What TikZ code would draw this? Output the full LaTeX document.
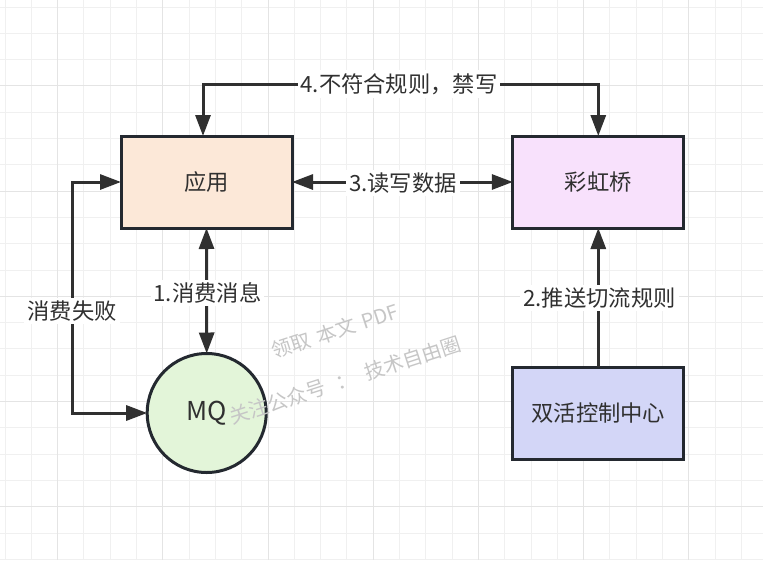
\documentclass[tikz,border=0pt]{standalone}
\usepackage{fontspec}
\setmainfont{Noto Sans CJK SC}
\usetikzlibrary{arrows.meta}
\definecolor{ink}{HTML}{303030}
\definecolor{edge}{HTML}{242930}
\definecolor{gridminor}{HTML}{F0F0F0}
\definecolor{gridmajor}{HTML}{E4E4E4}
\definecolor{peach}{HTML}{FCE8D8}
\definecolor{pinkish}{HTML}{F8E1FC}
\definecolor{mint}{HTML}{E3F5D9}
\definecolor{lilac}{HTML}{D3D6F7}
\definecolor{wmark}{HTML}{C6C6C6}
\tikzset{
  boxnode/.style={draw=edge, line width=3pt, minimum width=171pt, minimum height=92pt, inner sep=0pt, outer sep=0pt, font=\fontsize{22.3}{25}\selectfont, text=ink},
  circnode/.style={circle, draw=edge, line width=3pt, minimum size=119pt, inner sep=0pt, outer sep=0pt, fill=mint, font=\fontsize{26}{28}\selectfont, text=ink},
  conn/.style={draw=ink, line width=3pt, arrows={-Triangle[length=21pt,width=15pt]}},
  conn2/.style={draw=ink, line width=3pt, arrows={Triangle[length=21pt,width=15pt]-Triangle[length=21pt,width=15pt]}},
  lbl/.style={fill=white, inner sep=3pt, font=\fontsize{22.3}{25}\selectfont, text=ink},
  wm/.style={text=wmark, rotate=18, font=\fontsize{20}{22}\selectfont, inner sep=0pt},
}
\begin{document}
\begin{tikzpicture}[x=1pt,y=-1pt]
\useasboundingbox (0,0) rectangle (763,560);
\fill[white] (0,0) rectangle (763,560);
% grid
\foreach \k in {0,...,29} {
  \pgfmathsetmacro{\gx}{5+\k*26.3}
  \draw[gridminor, line width=1pt] (\gx,0) -- (\gx,560);
}
\foreach \k in {0,...,21} {
  \pgfmathsetmacro{\gy}{7+\k*26.3}
  \draw[gridminor, line width=1pt] (0,\gy) -- (763,\gy);
}
\foreach \k in {2,6,...,28} {
  \pgfmathsetmacro{\gx}{5+\k*26.3}
  \draw[gridmajor, line width=1pt] (\gx,0) -- (\gx,560);
}
\foreach \k in {3,7,...,19} {
  \pgfmathsetmacro{\gy}{7+\k*26.3}
  \draw[gridmajor, line width=1pt] (0,\gy) -- (763,\gy);
}
% nodes
\node[boxnode, fill=peach] (yy) at (206.5,182) {应用};
\node[boxnode, fill=pinkish] (chq) at (598.3,182) {彩虹桥};
\node[circnode] (mq) at (206.7,413) {MQ};
\node[boxnode, fill=lilac] (sh) at (598.3,413.2) {双活控制中心};
% helper coordinates
\coordinate (t4) at (399,84);
\coordinate (fl) at (72,311);
% connectors
\draw[conn2] ([xshift=-3.5pt]yy.north) |- (t4) -| (chq.north);
\draw[conn2] (yy.east) -- (chq.west);
\draw[conn2] (yy.south) -- (mq.north);
\draw[conn] (sh.north) -- (chq.south);
\draw[conn2] (mq.west) -| (fl) |- (yy.west);
% labels
\node[lbl] (l4) at (t4) {4.不符合规则，禁写};
\node[lbl] (l3) at (403,183) {3.读写数据};
\node[lbl] (l1) at (207.5,293) {1.消费消息};
\node[lbl] (l2) at (599.5,298) {2.推送切流规则};
\node[lbl] (lf) at (fl) {消费失败};
% watermark
\node[wm] (w1) at (335,331) {领取\hspace{7pt}本文\hspace{7pt}PDF};
\node[wm] (w2) at (345,380) {关注公众号\hspace{12pt}：\hspace{10pt}技术自由圈};
\end{tikzpicture}
\end{document}
